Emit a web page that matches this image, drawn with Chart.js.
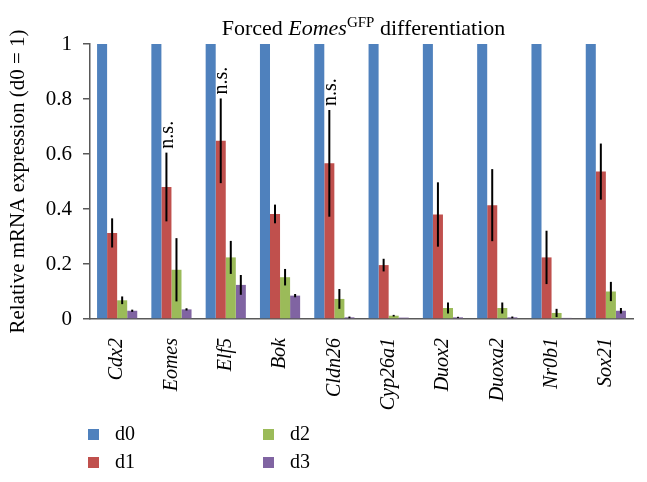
<!DOCTYPE html>
<html>
<head>
<meta charset="utf-8">
<script src="https://cdn.jsdelivr.net/npm/chart.js@4/dist/chart.umd.min.js"></script>
<style>
  html, body { margin: 0; padding: 0; background: #fff; }
  #wrap { width: 647px; height: 482px; }
</style>
</head>
<body>
<div id="wrap"><canvas id="chart" width="647" height="482"></canvas></div>
<script>
const genes = ["Cdx2", "Eomes", "Elf5", "Bok", "Cldn26", "Cyp26a1", "Duox2", "Duoxa2", "Nr0b1", "Sox21"];
const days = ["d0", "d1", "d2", "d3"];
const colors = ["#4F81BD", "#C0504D", "#9BBB59", "#8064A2"];

const d0 = [1, 1, 1, 1, 1, 1, 1, 1, 1, 1];
const d1 = [0.313, 0.48, 0.648, 0.382, 0.566, 0.196, 0.38, 0.414, 0.224, 0.536];
const d2 = [0.068, 0.179, 0.224, 0.152, 0.073, 0.012, 0.04, 0.04, 0.022, 0.1];
const d3 = [0.03, 0.035, 0.124, 0.085, 0.006, 0.005, 0.006, 0.006, 0.004, 0.03];

// error bars (+/-)
const d0Err = [0, 0, 0, 0, 0, 0, 0, 0, 0, 0];
const d1Err = [0.053, 0.125, 0.154, 0.034, 0.194, 0.023, 0.117, 0.131, 0.097, 0.102];
const d2Err = [0.014, 0.115, 0.06, 0.03, 0.036, 0.003, 0.02, 0.02, 0.015, 0.035];
const d3Err = [0.004, 0.004, 0.036, 0.006, 0.003, 0, 0.002, 0.003, 0, 0.01];

// "n.s." marks over d1 bars
const notSignificant = ["Eomes", "Elf5", "Cldn26"];

const series = [d0, d1, d2, d3];
const errors = [d0Err, d1Err, d2Err, d3Err];

const serif = "'Liberation Serif', 'Times New Roman', serif";

const errorBars = {
  id: "errorBars",
  afterDatasetsDraw(chart) {
    const ctx = chart.ctx;
    const y = chart.scales.y;
    ctx.save();
    ctx.strokeStyle = "#000";
    ctx.lineWidth = 2;
    chart.data.datasets.forEach((ds, i) => {
      const meta = chart.getDatasetMeta(i);
      meta.data.forEach((bar, j) => {
        const e = errors[i][j];
        if (!e) return;
        const v = ds.data[j];
        ctx.beginPath();
        ctx.moveTo(bar.x, y.getPixelForValue(v - e));
        ctx.lineTo(bar.x, y.getPixelForValue(v + e));
        ctx.stroke();
      });
    });
    // n.s. labels
    const meta1 = chart.getDatasetMeta(1);
    ctx.fillStyle = "#000";
    ctx.font = "20px " + serif;
    ctx.textAlign = "left";
    ctx.textBaseline = "middle";
    notSignificant.forEach(g => {
      const j = genes.indexOf(g);
      const bar = meta1.data[j];
      const top = y.getPixelForValue(d1[j] + d1Err[j]);
      ctx.save();
      ctx.translate(bar.x + 1, top - 4);
      ctx.rotate(-Math.PI / 2);
      ctx.fillText("n.s.", 0, 0);
      ctx.restore();
    });
    ctx.restore();
  }
};

const titleAndLegend = {
  id: "titleAndLegend",
  afterDraw(chart) {
    const ctx = chart.ctx;
    const area = chart.chartArea;
    ctx.save();
    ctx.fillStyle = "#000";
    ctx.textBaseline = "alphabetic";
    ctx.textAlign = "left";
    // title with italic gene name and superscript
    const parts = [
      { t: "Forced ", f: "22px " + serif, dy: 0 },
      { t: "Eomes", f: "italic 22px " + serif, dy: 0 },
      { t: "GFP", f: "15px " + serif, dy: -8 },
      { t: " differentiation", f: "22px " + serif, dy: 0 }
    ];
    let w = 0;
    parts.forEach(p => { ctx.font = p.f; w += ctx.measureText(p.t).width; });
    let x = (area.left + area.right) / 2 + 2 - w / 2;
    parts.forEach(p => {
      ctx.font = p.f;
      ctx.fillText(p.t, x, 35 + p.dy);
      x += ctx.measureText(p.t).width;
    });
    // legend in two columns
    ctx.font = "20px " + serif;
    ctx.textBaseline = "middle";
    const cols = [88, 263];
    const rows = [434, 462];
    days.forEach((d, i) => {
      const cx = cols[Math.floor(i / 2)];
      const cy = rows[i % 2];
      ctx.fillStyle = colors[i];
      ctx.fillRect(cx, cy - 5, 11, 11);
      ctx.fillStyle = "#000";
      ctx.fillText(d, cx + 27, cy + 1);
    });
    ctx.restore();
  }
};

new Chart(document.getElementById("chart"), {
  type: "bar",
  data: {
    labels: genes,
    datasets: series.map((s, i) => ({
      label: days[i],
      data: s,
      backgroundColor: colors[i],
      borderWidth: 0,
      barPercentage: 1,
      categoryPercentage: 0.74
    }))
  },
  options: {
    responsive: false,
    animation: false,
    events: [],
    layout: { padding: { top: 44, right: 14, left: 0, bottom: 0 } },
    plugins: {
      legend: { display: false },
      title: { display: false },
      tooltip: { enabled: false }
    },
    scales: {
      x: {
        grid: { display: false },
        border: { display: true, color: "#595959", width: 1.5 },
        ticks: {
          minRotation: 90,
          maxRotation: 90,
          padding: 11,
          color: "#000",
          font: { family: serif, size: 20, style: "italic" }
        },
        afterFit(scale) { scale.height = 163; }
      },
      y: {
        min: 0,
        max: 1,
        grid: { drawOnChartArea: false, tickLength: 7, color: "#595959", lineWidth: 1.5 },
        border: { display: true, color: "#595959", width: 1.5 },
        ticks: {
          stepSize: 0.2,
          padding: 11,
          color: "#000",
          font: { family: serif, size: 21 },
          callback: v => String(Number(v.toFixed(1)))
        },
        title: {
          display: true,
          text: "Relative mRNA expression (d0 = 1)",
          color: "#000",
          font: { family: serif, size: 21 },
          padding: { top: 6, bottom: 0 }
        },
        afterFit(scale) { scale.width = 90; }
      }
    }
  },
  plugins: [errorBars, titleAndLegend]
});
</script>
</body>
</html>
